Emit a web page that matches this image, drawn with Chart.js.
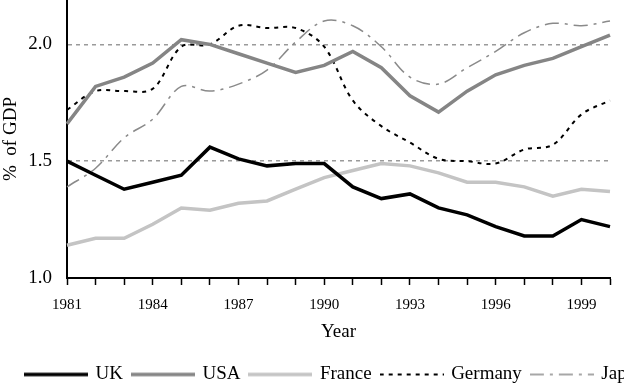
<!DOCTYPE html>
<html>
<head>
<meta charset="utf-8">
<script src="https://cdn.jsdelivr.net/npm/chart.js@4/dist/chart.umd.min.js"></script>
<style>
  html, body { margin: 0; padding: 0; background: #fff; overflow: hidden; }
  #wrap { width: 624px; height: 390px; overflow: hidden; }
</style>
</head>
<body>
<div id="wrap"><canvas id="gdpChart" width="700" height="390"></canvas></div>
<script>
const years = ["1981", "1982", "1983", "1984", "1985", "1986", "1987", "1988", "1989", "1990",
               "1991", "1992", "1993", "1994", "1995", "1996", "1997", "1998", "1999", "2000"];
const xTickLabels = ["1981", "1984", "1987", "1990", "1993", "1996", "1999"];
const yTicks = [1.0, 1.5, 2.0];

const uk      = [1.50, 1.44, 1.38, 1.41, 1.44, 1.56, 1.51, 1.48, 1.49, 1.49, 1.39, 1.34, 1.36, 1.30, 1.27, 1.22, 1.18, 1.18, 1.25, 1.22];
const usa     = [1.66, 1.82, 1.86, 1.92, 2.02, 2.00, 1.96, 1.92, 1.88, 1.91, 1.97, 1.90, 1.78, 1.71, 1.80, 1.87, 1.91, 1.94, 1.99, 2.04];
const france  = [1.14, 1.17, 1.17, 1.23, 1.30, 1.29, 1.32, 1.33, 1.38, 1.43, 1.46, 1.49, 1.48, 1.45, 1.41, 1.41, 1.39, 1.35, 1.38, 1.37];
const germany = [1.72, 1.80, 1.80, 1.81, 1.99, 2.00, 2.08, 2.07, 2.07, 1.99, 1.76, 1.65, 1.58, 1.51, 1.50, 1.49, 1.55, 1.57, 1.70, 1.76];
const japan   = [1.39, 1.47, 1.60, 1.68, 1.82, 1.80, 1.83, 1.89, 2.01, 2.10, 2.08, 1.99, 1.86, 1.83, 1.90, 1.97, 2.05, 2.09, 2.08, 2.10];

const serif = "'Liberation Serif', 'Times New Roman', serif";

// little canvas used as the legend sample, so dashes show up in the legend
function legendSample(color, width, dash) {
    const c = document.createElement("canvas");
    c.width = 64;
    c.height = 10;
    const g = c.getContext("2d");
    g.strokeStyle = color;
    g.lineWidth = width;
    g.setLineDash(dash);
    g.beginPath();
    g.moveTo(0, 5);
    g.lineTo(64, 5);
    g.stroke();
    return c;
}

function series(label, data, color, width, dash, tension) {
    return {
        label: label,
        data: data,
        borderColor: color,
        backgroundColor: color,
        borderWidth: width,
        borderDash: dash,
        tension: tension,
        pointRadius: 0,
        pointStyle: legendSample(color, width, dash),
        fill: false
    };
}

const ctx = document.getElementById("gdpChart").getContext("2d");
new Chart(ctx, {
    type: "line",
    data: {
        labels: years,
        datasets: [
            series("UK", uk, "#000000", 3.5, [], 0),
            series("USA", usa, "#858585", 3.5, [], 0),
            series("France", france, "#c4c4c4", 3.5, [], 0),
            series("Germany", germany, "#000000", 2, [4, 5], 0.35),
            series("Japan", japan, "#8a8a8a", 1.5, [14, 6, 3, 6], 0.35)
        ]
    },
    options: {
        responsive: false,
        animation: false,
        devicePixelRatio: 1,
        layout: { padding: { left: 16, right: 0, top: 0, bottom: -4 } },
        plugins: {
            tooltip: { enabled: false },
            legend: {
                position: "bottom",
                align: "start",
                labels: {
                    usePointStyle: true,
                    pointStyleWidth: 60,
                    padding: 10,
                    color: "#000",
                    font: { family: serif, size: 19 }
                }
            }
        },
        scales: {
            x: {
                grid: {
                    display: true,
                    drawOnChartArea: false,
                    drawTicks: true,
                    tickLength: 7,
                    tickWidth: 1.5,
                    tickColor: "#000"
                },
                border: { display: true, color: "#000", width: 2 },
                ticks: {
                    autoSkip: false,
                    maxRotation: 0,
                    padding: 11,
                    color: "#000",
                    font: { family: serif, size: 15 },
                    callback: function (value, index) {
                        const lab = years[index];
                        return xTickLabels.includes(lab) ? lab : "";
                    }
                },
                title: {
                    display: true,
                    text: "Year",
                    color: "#000",
                    font: { family: serif, size: 19 },
                    padding: { top: 0, bottom: 12 }
                },
                afterFit: function (scale) { scale.height = 77; }
            },
            y: {
                min: 1.0,
                max: 2.19,
                afterBuildTicks: function (scale) {
                    scale.ticks = yTicks.map(function (v) { return { value: v }; });
                },
                grid: {
                    drawTicks: true,
                    tickLength: 13,
                    tickColor: "rgba(0,0,0,0)",
                    lineWidth: 1.5,
                    color: function (c) {
                        return c.tick && c.tick.value > 1.0 ? "#9a9a9a" : "rgba(0,0,0,0)";
                    }
                },
                border: { display: true, color: "#000", width: 2, dash: [4, 4] },
                ticks: {
                    padding: 2,
                    color: "#000",
                    font: { family: serif, size: 19 },
                    callback: function (value) { return Number(value).toFixed(1); }
                },
                title: {
                    display: true,
                    text: "%  of GDP",
                    color: "#000",
                    font: { family: serif, size: 19 },
                    padding: { top: -16, bottom: 0 }
                },
                afterFit: function (scale) {
                    scale.width = 51;
                    scale.paddingTop = 0;
                    scale.paddingBottom = 0;
                }
            },
            yr: {
                type: "linear",
                position: "right",
                display: true,
                grid: { display: false },
                border: { display: false },
                ticks: { display: false },
                afterFit: function (scale) { scale.width = 90; }
            }
        }
    }
});
</script>
</body>
</html>
